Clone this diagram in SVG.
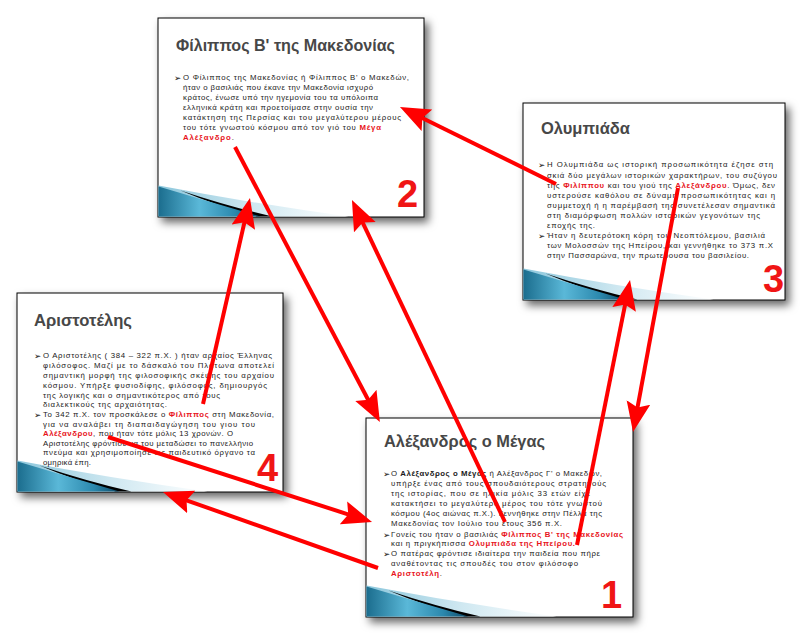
<svg xmlns="http://www.w3.org/2000/svg" xmlns:xlink="http://www.w3.org/1999/xlink" width="810" height="638" viewBox="0 0 810 638">
<style>
.slide{fill:#fff;stroke:#000;stroke-width:1}
.ti{font-family:"Liberation Sans",Arial,sans-serif;font-weight:bold;font-size:17px;fill:#474747}
.t{font-family:"Liberation Sans",Arial,sans-serif;font-size:7.8px;fill:#1a1a1a}
.r{fill:#e8141c;font-weight:bold}
.b{font-weight:bold}
.bl{font-family:"DejaVu Sans",sans-serif;font-size:8.5px;fill:#111}
.n{font-family:"Liberation Sans",Arial,sans-serif;font-weight:bold;font-size:38px;fill:#f01515}
.c{stroke:#ff0000;stroke-width:4;fill:none;marker-end:url(#ah)}
</style>
<defs>
<filter id="sh" x="-10%" y="-10%" width="125%" height="125%">
<feDropShadow dx="4" dy="5" stdDeviation="4" flood-color="#000" flood-opacity="0.6"/>
</filter>
<linearGradient id="blue" x1="0" y1="0" x2="1" y2="0">
<stop offset="0" stop-color="#1b6d8e"/>
<stop offset="0.4" stop-color="#5ab8d8"/>
<stop offset="0.75" stop-color="#2b88ad"/>
<stop offset="1" stop-color="#0c4866"/>
</linearGradient>
<linearGradient id="fade" x1="0" y1="0" x2="1" y2="0">
<stop offset="0" stop-color="#8cc7dc"/>
<stop offset="0.5" stop-color="#cfe8f1"/>
<stop offset="1" stop-color="#ffffff"/>
</linearGradient>
<g id="swoosh">
<path d="M0,-31 Q95,-13 190,0 L0,0 Z" fill="url(#fade)"/>
<path d="M22,-26 Q70,-10 114,0 L98,0 Q60,-10 22,-26 Z" fill="#000"/>
<path d="M0,-30 Q50,-15 102,0 L0,0 Z" fill="url(#blue)"/>
</g>
<marker id="ah" viewBox="0 -13 30 26" refX="8" refY="0" markerWidth="30" markerHeight="26" markerUnits="userSpaceOnUse" orient="auto">
<path d="M0,-12 L30,0 L0,12 L5,0 Z" fill="#ff0000"/>
</marker>
</defs>

<g id="slide2">
<rect class="slide" x="158" y="18" width="266" height="199" filter="url(#sh)"/>
<use xlink:href="#swoosh" href="#swoosh" x="158.5" y="216.5"/>
<text class="ti" x="176" y="51" textLength="219" lengthAdjust="spacingAndGlyphs">Φίλιππος Β' της Μακεδονίας</text>
<text class="bl" x="174" y="80.5">➢</text>
<text class="t" x="183" y="80" textLength="226" lengthAdjust="spacing">Ο Φίλιππος της Μακεδονίας ή Φίλιππος Β' ο Μακεδών,</text>
<text class="t" x="183" y="90" textLength="190" lengthAdjust="spacing">ήταν ο βασιλιάς που έκανε την Μακεδονία ισχυρό</text>
<text class="t" x="183" y="100" textLength="195" lengthAdjust="spacing">κράτος, ένωσε υπό την ηγεμονία του τα υπόλοιπα</text>
<text class="t" x="183" y="110" textLength="190" lengthAdjust="spacing">ελληνικά κράτη και προετοίμασε στην ουσία την</text>
<text class="t" x="183" y="120" textLength="218" lengthAdjust="spacing">κατάκτηση της Περσίας και του μεγαλύτερου μέρους</text>
<text class="t" x="183" y="130" textLength="198" lengthAdjust="spacing">του τότε γνωστού κόσμου από τον γιό του <tspan class="r">Μέγα</tspan></text>
<text class="t" x="183" y="140" textLength="51" lengthAdjust="spacing"><tspan class="r">Αλέξανδρο</tspan>.</text>
<text class="n" x="397" y="207">2</text>
</g>

<g id="slide3">
<rect class="slide" x="523" y="103" width="262" height="197" filter="url(#sh)"/>
<use xlink:href="#swoosh" href="#swoosh" x="523.5" y="299.5"/>
<text class="ti" x="541" y="134" textLength="89" lengthAdjust="spacingAndGlyphs">Ολυμπιάδα</text>
<text class="bl" x="538" y="167.5">➢</text>
<text class="t" x="547" y="167" textLength="226" lengthAdjust="spacing">Η Ολυμπιάδα ως ιστορική προσωπικότητα έζησε στη</text>
<text class="t" x="547" y="177.5" textLength="230" lengthAdjust="spacing">σκιά δύο μεγάλων ιστορικών χαρακτήρων, του συζύγου</text>
<text class="t" x="547" y="188" textLength="228" lengthAdjust="spacing">της <tspan class="r">Φιλίππου</tspan> και του γιού της <tspan class="r">Αλεξάνδρου</tspan>. Όμως, δεν</text>
<text class="t" x="547" y="198" textLength="228" lengthAdjust="spacing">υστερούσε καθόλου σε δύναμη προσωπικότητας και η</text>
<text class="t" x="547" y="208" textLength="228" lengthAdjust="spacing">συμμετοχή ή η παρέμβασή της συνετέλεσαν σημαντικά</text>
<text class="t" x="547" y="218" textLength="213" lengthAdjust="spacing">στη διαμόρφωση πολλών ιστορικών γεγονότων της</text>
<text class="t" x="547" y="228" textLength="48" lengthAdjust="spacing">εποχής της.</text>
<text class="bl" x="538" y="238.5">➢</text>
<text class="t" x="547" y="238" textLength="218" lengthAdjust="spacing">Ήταν η δευτερότοκη κόρη του Νεοπτόλεμου, βασιλιά</text>
<text class="t" x="547" y="248" textLength="226" lengthAdjust="spacing">των Μολοσσών της Ηπείρου, και γεννήθηκε το 373 π.Χ</text>
<text class="t" x="547" y="258" textLength="202" lengthAdjust="spacing">στην Πασσαρώνα, την πρωτεύουσα του βασιλείου.</text>
<text class="n" x="763" y="292">3</text>
</g>

<g id="slide4">
<rect class="slide" x="17" y="293" width="266" height="199" filter="url(#sh)"/>
<use xlink:href="#swoosh" href="#swoosh" x="17.5" y="491.5"/>
<text class="ti" x="34" y="326" textLength="98" lengthAdjust="spacingAndGlyphs">Αριστοτέλης</text>
<text class="bl" x="34" y="358.5">➢</text>
<text class="t" x="43" y="358" textLength="229" lengthAdjust="spacing">Ο Αριστοτέλης ( 384 – 322 π.Χ. ) ήταν αρχαίος Έλληνας</text>
<text class="t" x="43" y="368" textLength="231" lengthAdjust="spacing">φιλόσοφος. Μαζί με το δάσκαλό του Πλάτωνα αποτελεί</text>
<text class="t" x="43" y="378" textLength="231" lengthAdjust="spacing">σημαντική μορφή της φιλοσοφικής σκέψης του αρχαίου</text>
<text class="t" x="43" y="388" textLength="224" lengthAdjust="spacing">κόσμου. Υπήρξε φυσιοδίφης, φιλόσοφος, δημιουργός</text>
<text class="t" x="43" y="398" textLength="177" lengthAdjust="spacing">της λογικής και ο σημαντικότερος από τους</text>
<text class="t" x="43" y="407" textLength="124" lengthAdjust="spacing">διαλεκτικούς της αρχαιότητας.</text>
<text class="bl" x="34" y="417.5">➢</text>
<text class="t" x="43" y="417" textLength="231" lengthAdjust="spacing">Το 342 π.Χ. τον προσκάλεσε ο <tspan class="r">Φίλιππος</tspan> στη Μακεδονία,</text>
<text class="t" x="43" y="427" textLength="212" lengthAdjust="spacing">για να αναλάβει τη διαπαιδαγώγηση του γιου του</text>
<text class="t" x="43" y="436" textLength="190" lengthAdjust="spacing"><tspan class="r">Αλέξανδρου</tspan>, που ήταν τότε μόλις 13 χρονών. Ο</text>
<text class="t" x="43" y="446" textLength="210" lengthAdjust="spacing">Αριστοτέλης φρόντισε να του μεταδώσει το πανελλήνιο</text>
<text class="t" x="43" y="455" textLength="212" lengthAdjust="spacing">πνεύμα και χρησιμοποίησε ως παιδευτικό όργανο τα</text>
<text class="t" x="43" y="465" textLength="48" lengthAdjust="spacing">ομηρικά έπη.</text>
<text class="n" x="257" y="481">4</text>
</g>

<g id="slide1">
<rect class="slide" x="366" y="418" width="267" height="199" filter="url(#sh)"/>
<use xlink:href="#swoosh" href="#swoosh" x="366.5" y="616.5"/>
<text class="ti" x="384" y="447" textLength="161" lengthAdjust="spacingAndGlyphs">Αλέξανδρος ο Μέγας</text>
<text class="bl" x="383" y="476.5">➢</text>
<text class="t" x="391" y="476" textLength="211" lengthAdjust="spacing">Ο <tspan class="b">Αλέξανδρος ο Μέγας</tspan> ή Αλέξανδρος Γ' ο Μακεδών,</text>
<text class="t" x="391" y="486" textLength="215" lengthAdjust="spacing">υπήρξε ένας από τους σπουδαιότερους στρατηγούς</text>
<text class="t" x="391" y="496" textLength="199" lengthAdjust="spacing">της ιστορίας, που σε ηλικία μόλις 33 ετών είχε</text>
<text class="t" x="391" y="506" textLength="211" lengthAdjust="spacing">κατακτήσει το μεγαλύτερο μέρος του τότε γνωστού</text>
<text class="t" x="391" y="516" textLength="211" lengthAdjust="spacing">κόσμου (4ος αιώνας π.Χ.). Γεννήθηκε στην Πέλλα της</text>
<text class="t" x="391" y="526" textLength="171" lengthAdjust="spacing">Μακεδονίας τον Ιούλιο του έτους 356 π.Χ.</text>
<text class="bl" x="383" y="537.5">➢</text>
<text class="t" x="391" y="537" textLength="232" lengthAdjust="spacing">Γονείς του ήταν ο βασιλιάς <tspan class="r">Φίλιππος Β' της Μακεδονίας</tspan></text>
<text class="t" x="391" y="546" textLength="184" lengthAdjust="spacing">και η πριγκήπισσα <tspan class="r">Ολυμπιάδα της Ηπείρου.</tspan></text>
<text class="bl" x="383" y="556.5">➢</text>
<text class="t" x="391" y="556" textLength="209" lengthAdjust="spacing">Ο πατέρας φρόντισε ιδιαίτερα την παιδεία που πήρε</text>
<text class="t" x="391" y="566" textLength="187" lengthAdjust="spacing">αναθέτοντας τις σπουδές του στον φιλόσοφο</text>
<text class="t" x="391" y="576" textLength="51" lengthAdjust="spacing"><tspan class="r">Αριστοτέλη</tspan>.</text>
<text class="n" x="601" y="608">1</text>
</g>

<g id="connectors">
<line class="c" x1="556" y1="184" x2="419.7" y2="116.7"/>
<line class="c" x1="235" y1="147" x2="369.6" y2="402.5"/>
<line class="c" x1="203" y1="404" x2="245.1" y2="219.4"/>
<line class="c" x1="505" y1="522" x2="361.4" y2="219.9"/>
<line class="c" x1="577" y1="545" x2="625.7" y2="301.6"/>
<line class="c" x1="678" y1="188" x2="637" y2="410.4"/>
<line class="c" x1="108" y1="437" x2="351.1" y2="515.3"/>
<line class="c" x1="378" y1="568" x2="183.7" y2="499.3"/>
</g>
</svg>
